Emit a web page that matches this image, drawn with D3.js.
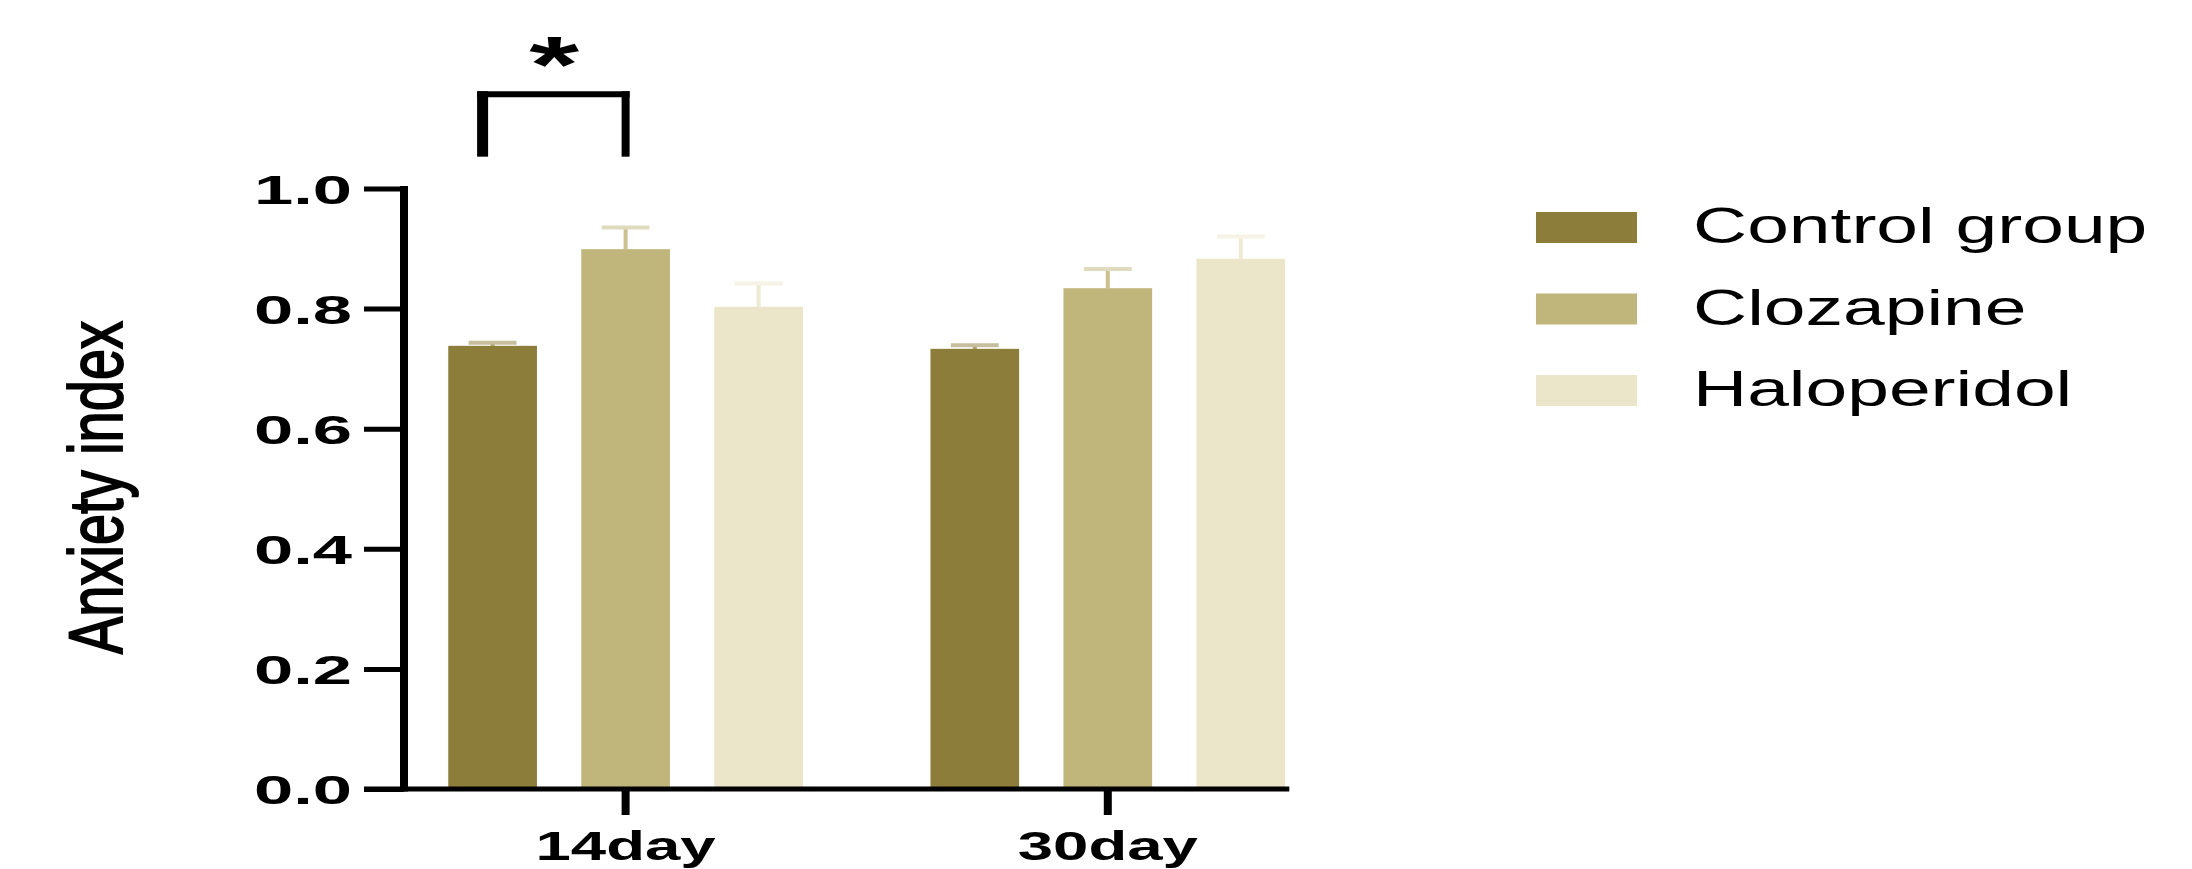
<!DOCTYPE html>
<html>
<head>
<meta charset="utf-8">
<script src="https://cdn.jsdelivr.net/npm/d3@7"></script>
<style>
  html, body { margin: 0; padding: 0; background: #ffffff; }
  svg { display: block; }
  text { font-family: "Liberation Sans", Arial, Helvetica, sans-serif; fill: #000; }
</style>
</head>
<body>
<svg id="chart" width="2192" height="869"></svg>
<script>
// ---- data ----
const groups = ["14day", "30day"];
const series = ["Control group", "Clozapine", "Haloperidol"];
const seriesColors = ["#8C7D3A", "#C0B67C", "#EBE6CA"];
const means14 = [0.738, 0.899, 0.803];
const means30 = [0.733, 0.834, 0.883];
const sem14 = [0.005, 0.036, 0.039];
const sem30 = [0.006, 0.032, 0.037];
const yTicks = [0.0, 0.2, 0.4, 0.6, 0.8, 1.0];
const yTitle = "Anxiety index";
// significance bracket: Control vs Clozapine at 14 days
const sigGroup = "14day";
const sigPair = ["Control group", "Clozapine"];
const sigLabel = "*";

const meansByGroup = { "14day": means14, "30day": means30 };
const semByGroup = { "14day": sem14, "30day": sem30 };
const rows = [];
groups.forEach(g => series.forEach((s, i) => rows.push({
  group: g, series: s, mean: meansByGroup[g][i], sem: semByGroup[g][i], color: seriesColors[i]
})));

// ---- scales ----
const svg = d3.select("#chart");
const y = d3.scaleLinear().domain([0, 1]).range([789, 188.5]);
const x0 = d3.scaleBand().domain(groups).range([426.1, 1307.3]).paddingInner(0.1725).paddingOuter(0);
const x1 = d3.scaleBand().domain(series).range([0, x0.bandwidth()]).paddingInner(1 / 3).paddingOuter(1 / 6);
const color = d3.scaleOrdinal().domain(series).range(seriesColors);
const xc = (g, s) => x0(g) + x1(s) + x1.bandwidth() / 2;

const axisLeftX = 404;

// ---- bars ----
svg.append("g").selectAll("rect").data(rows).join("rect")
  .attr("x", d => x0(d.group) + x1(d.series))
  .attr("y", d => y(d.mean))
  .attr("width", x1.bandwidth())
  .attr("height", d => y(0) - y(d.mean))
  .attr("fill", d => color(d.series));

// ---- error bars (upper only) ----
const eb = svg.append("g");
const capW = x1.bandwidth() * 0.54;
eb.selectAll("line.stem").data(rows).join("line")
  .attr("class", "stem")
  .attr("x1", d => xc(d.group, d.series)).attr("x2", d => xc(d.group, d.series))
  .attr("y1", d => y(d.mean)).attr("y2", d => y(d.mean + d.sem))
  .attr("stroke", d => d3.interpolateRgb(color(d.series), "#fff")(0.15))
  .attr("stroke-width", 4);
eb.selectAll("line.cap").data(rows).join("line")
  .attr("class", "cap")
  .attr("x1", d => xc(d.group, d.series) - capW / 2).attr("x2", d => xc(d.group, d.series) + capW / 2)
  .attr("y1", d => y(d.mean + d.sem)).attr("y2", d => y(d.mean + d.sem))
  .attr("stroke", d => d3.interpolateRgb(color(d.series), "#fff")(0.5))
  .attr("stroke-width", 4);

// ---- y axis ----
const yAxisG = svg.append("g").attr("transform", `translate(${axisLeftX},0)`)
  .call(d3.axisLeft(y).tickValues(yTicks).tickFormat(d3.format(".1f")).tickSize(40).tickPadding(12));
yAxisG.select(".domain").remove();
yAxisG.selectAll(".tick line").attr("stroke", "#000").attr("stroke-width", 5);
yAxisG.selectAll(".tick text")
  .attr("dy", "0.36em")
  .style("font-size", "41px").style("font-weight", "bold")
  .attr("transform", "translate(-52,0) scale(1.72,1) translate(52,0)");
svg.append("line")
  .attr("x1", axisLeftX).attr("x2", axisLeftX)
  .attr("y1", y(1) - 2.5).attr("y2", y(0) + 2.5)
  .attr("stroke", "#000").attr("stroke-width", 8);

// ---- x axis ----
svg.append("line")
  .attr("x1", axisLeftX - 40).attr("x2", x0.range()[1] - 18)
  .attr("y1", y(0)).attr("y2", y(0))
  .attr("stroke", "#000").attr("stroke-width", 5);
const xAxisG = svg.append("g").attr("transform", `translate(0,${y(0)})`)
  .call(d3.axisBottom(x0).tickSize(26).tickPadding(10));
xAxisG.select(".domain").remove();
xAxisG.selectAll(".tick line").attr("stroke", "#000").attr("stroke-width", 8);
xAxisG.selectAll(".tick text")
  .attr("y", 71).attr("dy", 0)
  .style("font-size", "41px").style("font-weight", "bold")
  .attr("transform", "scale(1.55,1)");

// ---- y title ----
svg.append("text")
  .attr("transform", "translate(121.7,487.5) rotate(-90) scale(1,1.37)")
  .attr("text-anchor", "middle")
  .style("font-size", "56px")
  .style("stroke", "#000").style("stroke-width", "1.4px")
  .text(yTitle);

// ---- significance bracket ----
const bx1 = xc(sigGroup, sigPair[0]) - 10;
const bx2 = xc(sigGroup, sigPair[1]);
const bTop = y(1.157), bBot = y(1.053);
const br = svg.append("g").attr("stroke", "#000").attr("fill", "none");
br.append("line").attr("x1", bx1).attr("x2", bx1).attr("y1", bTop - 3).attr("y2", bBot).attr("stroke-width", 11);
br.append("line").attr("x1", bx2).attr("x2", bx2).attr("y1", bTop - 3).attr("y2", bBot).attr("stroke-width", 8);
br.append("line").attr("x1", bx1 - 5.5).attr("x2", bx2 + 4).attr("y1", bTop).attr("y2", bTop).attr("stroke-width", 6);
const starX = (bx1 + bx2) / 2;
svg.append("text")
  .attr("transform", `translate(${starX},${y(1.231) + 42}) scale(1.6,1)`)
  .attr("text-anchor", "middle")
  .style("font-size", "80px").style("font-weight", "bold")
  .text(sigLabel);

// ---- legend ----
const lg = svg.append("g").selectAll("g").data(series).join("g")
  .attr("transform", (d, i) => `translate(1536,${212 + i * 81.5})`);
lg.append("rect").attr("width", 101).attr("height", 31).attr("fill", d => color(d));
lg.append("text")
  .attr("transform", "translate(157,31) scale(1.5,1)")
  .style("font-size", "50px")
  .text(d => d);
</script>
</body>
</html>
